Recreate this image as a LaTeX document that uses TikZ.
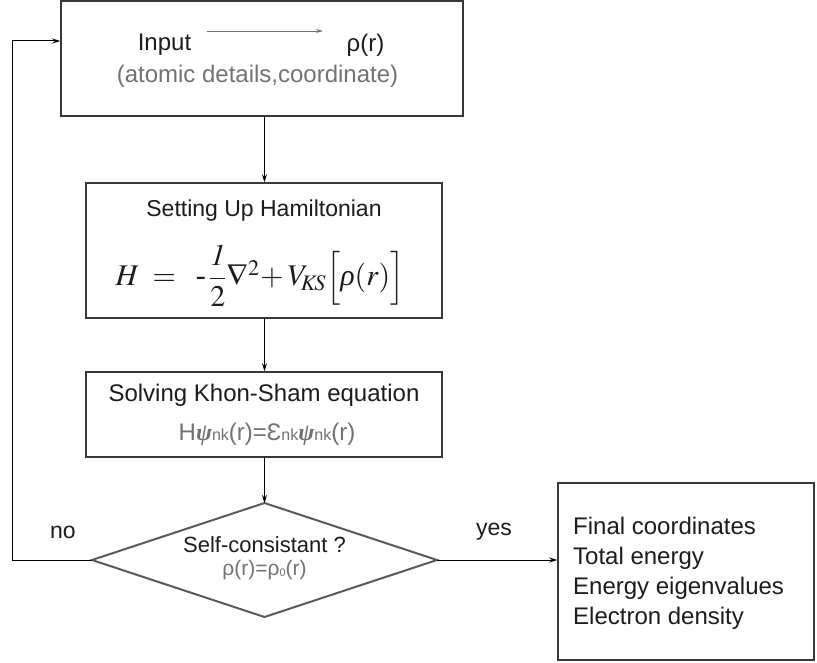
\documentclass[tikz,border=0pt]{standalone}
\usepackage{amsmath}
\usepackage{mathptmx}
\usepackage[no-math]{fontspec}
\setmainfont{Liberation Sans}
\newfontfamily\serifgreek{Liberation Serif}
\usetikzlibrary{arrows.meta}
\definecolor{boxline}{HTML}{383838}
\definecolor{dline}{HTML}{5A5A5A}
\definecolor{maintext}{HTML}{1C1C1C}
\definecolor{subtext}{HTML}{727272}
\begin{document}
\begin{tikzpicture}[x=1pt,y=-1pt,
  boxnode/.style={draw=boxline, line width=1.5pt, inner sep=0pt},
  txt/.style={inner sep=0pt, text=maintext, font=\fontsize{24}{28}\selectfont},
  subtxt/.style={inner sep=0pt, text=subtext, font=\fontsize{22}{26}\selectfont},
  arr/.style={-{Stealth[length=8pt,width=5pt]}, line width=1pt, black},
  thinarr/.style={-{Stealth[length=7pt,width=4pt]}, line width=0.8pt, subtext}]
\useasboundingbox (0,0) rectangle (817,663);
\fill[white] (0,0) rectangle (817,663);

% box 1
\node[boxnode, minimum width=402pt, minimum height=115pt] (b1) at (262,58.5) {};
\node[txt] (inp) at (164.5,45) {Input};
\node[txt] (rho) at (365.5,45) {ρ(r)};
\coordinate (ia) at (207,31);
\coordinate (ib) at (323,31);
\draw[thinarr] (ia) -- (ib);
\node[subtxt, font=\fontsize{24}{28}\selectfont] (atom) at (257.5,76) {(atomic details,coordinate)};

% box 2
\node[boxnode, minimum width=356pt, minimum height=135pt] (b2) at (264,250.5) {};
\node[txt, font=\fontsize{23}{28}\selectfont] (ham) at (264,211) {Setting Up Hamiltonian};
\node[inner sep=0pt, text=maintext, font=\fontsize{30}{36}\selectfont] (eq) at (260,276)
  {$H \;=\; \;\text{\serifgreek -}\,\dfrac{\mathit{1}}{2}\nabla^2\!+V_{\!K\!S}\Big[\text{\serifgreek\itshape ρ}(r)\Big]$};

% box 3
\node[boxnode, minimum width=356pt, minimum height=85pt] (b3) at (264,414.5) {};
\node[txt] (ks) at (264,395) {Solving Khon-Sham equation};
\node[subtxt, font=\fontsize{24}{28}\selectfont] (kseq) at (267,434)
  {H{\serifgreek\bfseries\itshape ψ}{\fontsize{16}{16}\selectfont nk}(r)=Ɛ{\fontsize{16}{16}\selectfont nk}{\serifgreek\bfseries\itshape ψ}{\fontsize{16}{16}\selectfont nk}(r)};

% diamond
\coordinate (dc) at (264.5,560);
\coordinate (dl) at (92,560);
\coordinate (dr) at (437,560);
\coordinate (dt) at (264.5,503);
\coordinate (db) at (264.5,617);
\draw[dline, line width=2pt, line join=miter] (dl) -- (dt) -- (dr) -- (db) -- cycle;
\node[txt, font=\fontsize{22}{26}\selectfont] (sc) at (264.5,545) {Self-consistant ?};
\node[subtxt, font=\fontsize{21}{26}\selectfont] (sceq) at (264.5,570)
  {ρ(r)=ρ{\fontsize{11}{11}\selectfont\raisebox{-1pt}{0}}(r)};

% result box
\node[boxnode, minimum width=256pt, minimum height=177pt] (res) at (686,571.5) {};
\node[inner sep=0pt, text=maintext, anchor=west, align=left,
  font=\fontsize{24}{30}\selectfont] (restxt) at (573,573)
  {Final coordinates\\Total energy\\Energy eigenvalues\\Electron density};

% labels
\node[txt, font=\fontsize{23}{28}\selectfont] (no) at (63,532) {no};
\node[txt, font=\fontsize{23}{28}\selectfont] (yes) at (494,532) {yes};

% connectors
\draw[arr] (b1.south -| dt) -- (b2.north -| dt);
\draw[arr] (b2.south -| dt) -- (b3.north -| dt);
\draw[arr] (b3.south -| dt) -- (dt);
\draw[arr] (dr) -- (res.west |- dr);
\coordinate (lc) at (12,560);
\draw[arr] (dl) -- (lc) |- ([yshift=17.5pt]b1.west);
\end{tikzpicture}
\end{document}
